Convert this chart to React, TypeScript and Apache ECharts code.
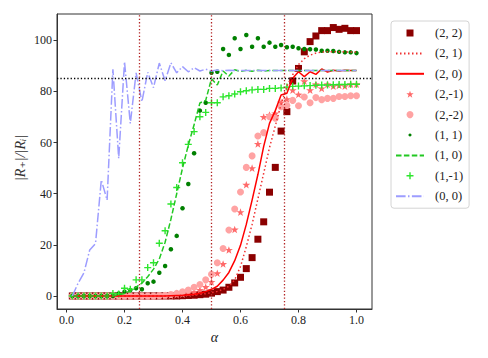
import React, { useEffect, useRef } from "react";
import * as echarts from "echarts";

const alpha = [
  0.02, 0.04, 0.06, 0.08, 0.1, 0.12, 0.14, 0.16, 0.18, 0.2,
  0.22, 0.24, 0.26, 0.28, 0.3, 0.32, 0.34, 0.36, 0.38, 0.4,
  0.42, 0.44, 0.46, 0.48, 0.5, 0.52, 0.54, 0.56, 0.58, 0.6,
  0.62, 0.64, 0.66, 0.68, 0.7, 0.72, 0.74, 0.76, 0.78, 0.8,
  0.82, 0.84, 0.86, 0.88, 0.9, 0.92, 0.94, 0.96, 0.98, 1.0,
];

// (2, 2) squares
const s22 = [
  0, 0, 0, 0, 0, 0, 0, 0, 0, 0,
  0, 0, 0, 0, 0, 0, 0, 0, 0, 0.1,
  0.2, 0.3, 0.5, 0.7, 1.1, 1.7, 2.3, 3.4, 5.1, 7.3,
  10.7, 15.0, 22.2, 29.0, 40.6, 50.3, 64.5, 72.1, 84.1, 89.0,
  95.5, 99.5, 101.7, 103.8, 103.8, 105.0, 104.3, 104.7, 103.8, 103.8,
];
// (2, 1) dotted line
const s21 = [
  0, 0, 0, 0, 0, 0, 0, 0, 0, 0,
  0, 0, 0, 0, 0, 0, 0, 0.1, 0.1, 0.2,
  0.3, 0.4, 0.6, 0.9, 1.3, 1.8, 2.6, 3.8, 6.3, 11.5,
  19.3, 28.0, 38.0, 48.0, 58.0, 66.5, 75.0, 82.0, 86.5, 90.5,
  92.8, 94.2, 95.0, 95.4, 95.5, 95.6, 95.5, 95.5, 95.4, 95.4,
];
// (2, 0) solid line
const s20 = [
  0, 0, 0, 0, 0, 0, 0, 0, 0, 0,
  0, 0, 0, 0, 0, 0, 0, 0.1, 0.2, 0.3,
  0.5, 0.7, 1.1, 1.7, 2.6, 3.8, 6.2, 9.2, 13.8, 19.8,
  28.0, 37.5, 47.5, 58.5, 67.5, 72.5, 78.6, 79.3, 85.2, 87.7,
  85.8, 87.7, 86.7, 88.8, 87.6, 88.3, 88.0, 88.3, 88.2, 88.2,
];
// (2,-1) stars
const s2m1 = [
  0, 0, 0, 0, 0, 0, 0, 0, 0, 0,
  0, 0, 0, 0, 0, 0, 0, 0.2, 0.4, 0.7,
  1.1, 1.5, 2.3, 3.5, 5.5, 8.9, 12.5, 18.0, 26.0, 32.8,
  43.5, 50.0, 59.5, 70.0, 70.8, 71.4, 75.7, 77.0, 80.5, 78.8,
  84.0, 80.5, 82.8, 81.2, 82.8, 82.1, 82.4, 82.1, 82.8, 82.8,
];
// (2,-2) circles
const s2m2 = [
  0, 0, 0, 0, 0, 0, 0, 0, 0, 0,
  0, 0, 0, 0, 0, 0.2, 0.3, 0.6, 1.0, 1.6,
  2.3, 3.4, 4.5, 6.3, 8.5, 13.0, 18.6, 25.8, 34.0, 40.7,
  50.3, 54.8, 62.6, 63.9, 70.1, 69.5, 74.0, 74.5, 76.5, 74.4,
  77.8, 75.6, 77.6, 76.8, 77.3, 77.3, 78.0, 78.0, 78.3, 78.3,
];
// (1, 1) dots
const s11 = [
  0, 0, 0, 0, 0, 0, 0, 0, 1.0, 1.7,
  2.3, 3.0, 2.6, 5.0, 5.6, 9.1, 11.7, 18.3, 23.5, 34.3,
  43.8, 55.8, 72.5, 75.6, 87.3, 87.7, 96.6, 94.3, 100.8, 96.6,
  102.1, 97.5, 100.8, 97.5, 99.1, 97.5, 98.2, 97.3, 97.5, 96.9,
  96.6, 96.5, 96.4, 95.9, 95.9, 95.8, 95.5, 95.3, 95.3, 95.0,
];
// (1, 0) dashed line
const s10 = [
  0, 0, 0, 0, 0, 0, 0, 0, 0.5, 1.0,
  2.0, 3.5, 5.0, 7.5, 10.5, 14.5, 21.0, 30.0, 40.0, 50.0,
  59.0, 67.0, 75.5, 76.5, 85.0, 82.5, 88.0, 86.0, 88.5, 87.8,
  88.3, 87.9, 88.3, 88.0, 88.2, 88.2, 88.2, 88.2, 88.2, 88.2,
  88.2, 88.2, 88.2, 88.2, 88.2, 88.2, 88.2, 88.2, 88.2, 88.2,
];
// (1,-1) plus markers
const s1m1 = [
  0, 0, 0, 0, 0, 0, 0, 1.0, 0.8, 3.0,
  2.6, 6.3, 6.3, 11.1, 13.0, 20.6, 25.5, 36.0, 42.4, 52.1,
  59.3, 64.3, 70.1, 71.8, 75.6, 75.6, 77.9, 78.3, 79.0, 79.9,
  80.3, 80.6, 80.8, 80.8, 81.2, 81.2, 81.4, 81.7, 82.0, 82.1,
  82.2, 82.3, 82.4, 82.5, 82.5, 82.6, 82.7, 82.7, 82.8, 82.8,
];
// (0, 0) dash-dot line
const s00 = [
  0, 5.0, 9.0, 18.0, 20.5, 45.4, 37.5, 88.7, 53.8, 91.6,
  67.5, 87.3, 76.0, 87.5, 81.5, 91.1, 84.2, 91.2, 87.3, 89.7,
  87.7, 89.3, 88.0, 88.7, 88.0, 88.4, 88.1, 88.3, 88.2, 88.2,
  88.2, 88.2, 88.2, 88.2, 88.2, 88.2, 88.2, 88.2, 88.2, 88.2,
  88.2, 88.2, 88.2, 88.2, 88.2, 88.2, 88.2, 88.2, 88.2, 88.2,
];

const xTicks = [0, 0.2, 0.4, 0.6, 0.8, 1.0];
const yTicks = [0, 20, 40, 60, 80, 100];
const vLines = [0.25, 0.5, 0.75];
const hLine = 85;

const names = ["(2, 2)", "(2, 1)", "(2, 0)", "(2,-1)", "(2,-2)", "(1, 1)", "(1, 0)", "(1,-1)", "(0, 0)"];
const lineNames = ["(2, 1)", "(2, 0)", "(1, 0)", "(0, 0)"];

const SQUARE = "path://M0,0H10V10H0Z";
const STAR =
  "path://M10,0L12.35,6.76L19.51,6.91L13.8,11.24L15.88,18.09L10,14L4.12,18.09L6.2,11.24L0.49,6.91L7.65,6.76Z";
const PLUS = "path://M4,0H6V4H10V6H6V10H4V6H0V4H4Z";
const SMALLDOT = "path://M0,0M20,20M10,5.6A4.4,4.4,0,1,1,9.99,5.6Z";

const FONT = "'Liberation Serif', 'DejaVu Serif', serif";

const zip = (ys: number[]) => alpha.map((a, i) => [a, ys[i]]);

export default function App() {
  const ref = useRef<HTMLDivElement>(null);
  useEffect(() => {
    if (!ref.current) return;
    const chart = echarts.init(ref.current, null, { renderer: "svg" });
    const scatter = (name: string, data: number[], symbol: string, size: number, color: string) => ({
      name,
      type: "scatter",
      data: zip(data),
      symbol,
      symbolSize: size,
      symbolKeepAspect: true,
      itemStyle: { color, opacity: 1 },
    });
    const line = (name: string, data: number[], color: string, type: any) => ({
      name,
      type: "line",
      data: zip(data),
      symbol: "none",
      showSymbol: false,
      lineStyle: { color, width: 1.5, type },
      itemStyle: { color },
    });
    const option: any = {
      animation: false,
      backgroundColor: "#fff",
      grid: {
        left: 57,
        top: 14,
        width: 315,
        height: 295,
        show: true,
        borderColor: "#333",
        borderWidth: 1,
        backgroundColor: "transparent",
      },
      xAxis: {
        type: "value",
        min: -0.0328,
        max: 1.0535,
        splitLine: { show: false },
        axisLine: { show: true, onZero: false, lineStyle: { color: "#333", width: 1 } },
        axisTick: { show: true, customValues: xTicks, length: 3.5, lineStyle: { color: "#333" } },
        axisLabel: {
          customValues: xTicks,
          formatter: (v: number) => v.toFixed(1),
          margin: 5,
          fontFamily: FONT,
          fontSize: 12,
          color: "#222",
        },
        name: "α",
        nameLocation: "middle",
        nameGap: 21,
        nameTextStyle: { fontFamily: FONT, fontSize: 14, fontStyle: "italic", color: "#222" },
      },
      yAxis: {
        type: "value",
        min: -5.1,
        max: 110.3,
        splitLine: { show: false },
        axisLine: { show: true, onZero: false, lineStyle: { color: "#333", width: 1 } },
        axisTick: { show: true, customValues: yTicks, length: 3.5, lineStyle: { color: "#333" } },
        axisLabel: {
          customValues: yTicks,
          formatter: (v: number) => String(v),
          margin: 5,
          fontFamily: FONT,
          fontSize: 12,
          color: "#222",
        },
      },
      legend: {
        orient: "vertical",
        left: 391,
        top: 21,
        padding: [5, 6, 5, 4],
        itemWidth: 28,
        itemHeight: 7,
        itemGap: 6.4,
        borderColor: "#d4d4d4",
        borderWidth: 1,
        borderRadius: 3,
        backgroundColor: "#fff",
        selectedMode: false,
        textStyle: { fontFamily: FONT, fontSize: 12.5, color: "#222", padding: [0, 0, 0, 6], lineHeight: 14 },
        data: names.map((n) =>
          n === "(1, 1)"
            ? { name: n, icon: SMALLDOT }
            : lineNames.includes(n)
            ? { name: n, itemStyle: { opacity: 0 } }
            : { name: n }
        ),
      },
      graphic: [
        {
          type: "text",
          x: 20,
          y: 158,
          rotation: Math.PI / 2,
          style: {
            text: "|R₊|/|Rᵢ|",
            fontFamily: FONT,
            fontSize: 14,
            fontStyle: "italic",
            fill: "#333",
            align: "center",
            verticalAlign: "middle",
          },
        },
      ],
      series: [
        scatter(names[0], s22, SQUARE, 7, "#8b0000"),
        line(names[1], s21, "#f03030", [1.5, 2.5]),
        line(names[2], s20, "#ff0000", "solid"),
        scatter(names[3], s2m1, STAR, 8, "#ff6a6a"),
        scatter(names[4], s2m2, "circle", 7, "#ffa3a3"),
        scatter(names[5], s11, "circle", 4.5, "#008000"),
        line(names[6], s10, "#22c822", [5.5, 2.4]),
        scatter(names[7], s1m1, PLUS, 7, "#2ee62e"),
        line(names[8], s00, "#9d9dff", [9.6, 2.4, 1.5, 2.4]),
        {
          type: "line",
          data: [],
          silent: true,
          markLine: {
            silent: true,
            symbol: ["none", "none"],
            label: { show: false },
            data: [
              ...vLines.map((v) => ({ xAxis: v, lineStyle: { color: "#b22222", width: 1.3, type: [1.3, 2.1] } })),
              { yAxis: hLine, lineStyle: { color: "#000", width: 1.3, type: [1.3, 2.1] } },
            ],
          },
        },
      ],
    };
    chart.setOption(option);
    return () => chart.dispose();
  }, []);
  return <div ref={ref} style={{ position: "fixed", left: 0, top: 0, width: 488, height: 358 }} />;
}
